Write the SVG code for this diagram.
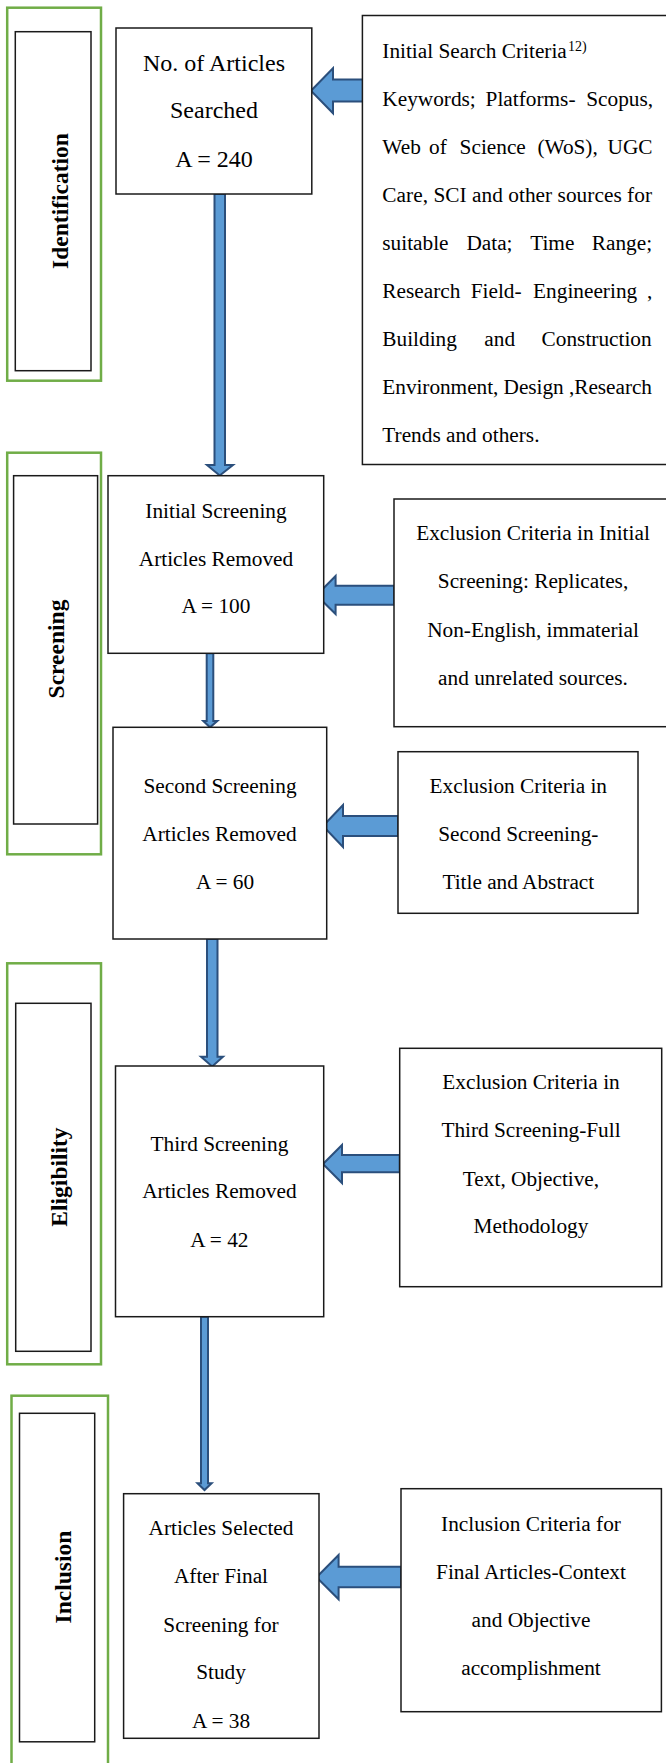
<svg xmlns="http://www.w3.org/2000/svg" width="666" height="1763" viewBox="0 0 666 1763">
<style>
.bg{fill:#fff}
.phase{fill:none;stroke:#70AD47;stroke-width:2.5}
.box{fill:#fff;stroke:#1a1a1a;stroke-width:1.5}
.lbl{fill:none;stroke:#1a1a1a;stroke-width:1.5}
.t{font-family:"Liberation Serif","Times New Roman",serif;font-size:21.3px;fill:#000}
.tc{text-anchor:middle}
.big{font-size:24px}
.v{font-family:"Liberation Serif","Times New Roman",serif;font-weight:bold;font-size:23.5px;fill:#000;text-anchor:middle}
.arr{fill:#5B9BD5;stroke:#2B4F7C;stroke-width:2;stroke-linejoin:miter}
</style>
<rect class="bg" x="0" y="0" width="666" height="1763"/>

<g id="phase-identification">
<rect class="phase" x="7.2" y="7.7" width="93.8" height="373"/>
<rect class="lbl" x="15.3" y="31.7" width="75.7" height="339"/>
<text class="v" transform="translate(67.5,201) rotate(-90)">Identification</text>
</g>
<g id="phase-screening">
<rect class="phase" x="7.2" y="452.7" width="93.8" height="401.6"/>
<rect class="lbl" x="13.6" y="475.7" width="84" height="348.3"/>
<text class="v" transform="translate(64,649) rotate(-90)">Screening</text>
</g>
<g id="phase-eligibility">
<rect class="phase" x="7.2" y="963.3" width="93.8" height="401"/>
<rect class="lbl" x="15.7" y="1003.3" width="75.3" height="348"/>
<text class="v" transform="translate(66.5,1177) rotate(-90)">Eligibility</text>
</g>
<g id="phase-inclusion">
<rect class="phase" x="11.5" y="1395.7" width="96.5" height="400"/>
<rect class="lbl" x="19.5" y="1413.3" width="75.2" height="328.5"/>
<text class="v" transform="translate(70.5,1577) rotate(-90)">Inclusion</text>
</g>

<g id="connectors">
<path class="arr" d="M311,90.7 L333,68.3 L333,79.5 L363,79.5 L363,101.5 L333,101.5 L333,113.3 Z"/>
<path class="arr" d="M316.5,595.3 L335.6,576 L335.6,585.7 L394,585.7 L394,604.7 L335.6,604.7 L335.6,614 Z"/>
<path class="arr" d="M323,826 L343,805 L343,816 L398,816 L398,836 L343,836 L343,847 Z"/>
<path class="arr" d="M323,1164 L342,1145 L342,1155 L399.7,1155 L399.7,1172.3 L342,1172.3 L342,1183 Z"/>
<path class="arr" d="M316.5,1577.3 L338.6,1555 L338.6,1566.7 L401,1566.7 L401,1587.3 L338.6,1587.3 L338.6,1599.3 Z"/>
<path class="arr" d="M214.5,194 L225,194 L225,465 L233,465 L219.7,475.5 L207,465 L214.5,465 Z"/>
<path class="arr" stroke-width="1.5" d="M206.7,653.3 L213.3,653.3 L213.3,721 L217.3,721 L210,727.3 L203.3,721 L206.7,721 Z"/>
<path class="arr" d="M207,939 L217.5,939 L217.5,1056.7 L223,1056.7 L212.2,1066.5 L201,1056.7 L207,1056.7 Z"/>
<path class="arr" stroke-width="1.5" d="M201,1316.7 L208,1316.7 L208,1483.3 L211.6,1483.3 L204.5,1490 L197.5,1483.3 L201,1483.3 Z"/>
</g>

<g id="n-searched">
<rect class="box" x="116" y="28" width="195.8" height="166"/>
<text class="t tc big" x="214" y="71">No. of Articles</text>
<text class="t tc big" x="214" y="118">Searched</text>
<text class="t tc big" x="214" y="166.7">A = 240</text>
</g>

<g id="n-search-criteria">
<rect class="box" x="362.4" y="15.5" width="320" height="449"/>
<text class="t" x="382.3" y="58.3">Initial Search Criteria</text>
<text class="t" x="568" y="51" style="font-size:14px">12)</text>
<text class="t" y="106"><tspan x="382.3">Keywords;</tspan><tspan x="485.6">Platforms-</tspan><tspan x="586.2">Scopus,</tspan></text>
<text class="t" y="154"><tspan x="382.3">Web</tspan><tspan x="429">of</tspan><tspan x="459.6">Science</tspan><tspan x="537.4">(WoS),</tspan><tspan x="607.5">UGC</tspan></text>
<text class="t" x="382.3" y="202" textLength="269.7" lengthAdjust="spacing">Care, SCI and other sources for</text>
<text class="t" y="250"><tspan x="382.3">suitable</tspan><tspan x="466.4">Data;</tspan><tspan x="530.2">Time</tspan><tspan x="591.8">Range;</tspan></text>
<text class="t" y="297.7"><tspan x="382.3">Research</tspan><tspan x="470.7">Field-</tspan><tspan x="533.1">Engineering</tspan><tspan x="647">,</tspan></text>
<text class="t" y="345.7"><tspan x="382.3">Building</tspan><tspan x="484.3">and</tspan><tspan x="541.6">Construction</tspan></text>
<text class="t" x="382.3" y="393.7" textLength="269.7" lengthAdjust="spacing">Environment, Design ,Research</text>
<text class="t" x="382.3" y="441.7">Trends and others.</text>
</g>

<g id="n-initial-screening">
<rect class="box" x="108" y="475.7" width="215.7" height="177.6"/>
<text class="t tc" x="216" y="518">Initial Screening</text>
<text class="t tc" x="216" y="566">Articles Removed</text>
<text class="t tc" x="216" y="613.3">A = 100</text>
</g>

<g id="n-exclusion-initial">
<rect class="box" x="394" y="499" width="290" height="227.7"/>
<text class="t tc" x="533" y="540">Exclusion Criteria in Initial</text>
<text class="t tc" x="533" y="588.3">Screening: Replicates,</text>
<text class="t tc" x="533" y="636.7">Non-English, immaterial</text>
<text class="t tc" x="533" y="685">and unrelated sources.</text>
</g>

<g id="n-second-screening">
<rect class="box" x="113" y="727.3" width="213.7" height="211.7"/>
<text class="t tc" x="220" y="793.3">Second Screening</text>
<text class="t tc" x="219.5" y="840.7">Articles Removed</text>
<text class="t tc" x="225" y="889">A = 60</text>
</g>

<g id="n-exclusion-second">
<rect class="box" x="398" y="751.7" width="240" height="161.6"/>
<text class="t tc" x="518.3" y="793.3">Exclusion Criteria in</text>
<text class="t tc" x="518.3" y="841">Second Screening-</text>
<text class="t tc" x="518.3" y="889.3">Title and Abstract</text>
</g>

<g id="n-third-screening">
<rect class="box" x="115.5" y="1066" width="208.2" height="250.7"/>
<text class="t tc" x="219.4" y="1150.7">Third Screening</text>
<text class="t tc" x="219.4" y="1198.3">Articles Removed</text>
<text class="t tc" x="219.4" y="1246.7">A = 42</text>
</g>

<g id="n-exclusion-third">
<rect class="box" x="399.7" y="1048.3" width="262" height="238.4"/>
<text class="t tc" x="531" y="1089.3">Exclusion Criteria in</text>
<text class="t tc" x="531" y="1137.3">Third Screening-Full</text>
<text class="t tc" x="531" y="1185.7">Text, Objective,</text>
<text class="t tc" x="531" y="1233.3">Methodology</text>
</g>

<g id="n-final">
<rect class="box" x="123.6" y="1493.7" width="195.4" height="244.6"/>
<text class="t tc" x="221" y="1535">Articles Selected</text>
<text class="t tc" x="221" y="1583.3">After Final</text>
<text class="t tc" x="221" y="1631.7">Screening for</text>
<text class="t tc" x="221" y="1679.3">Study</text>
<text class="t tc" x="221" y="1727.7">A = 38</text>
</g>

<g id="n-inclusion-criteria">
<rect class="box" x="401" y="1488.7" width="260.4" height="223"/>
<text class="t tc" x="531" y="1530.7">Inclusion Criteria for</text>
<text class="t tc" x="531" y="1579">Final Articles-Context</text>
<text class="t tc" x="531" y="1626.7">and Objective</text>
<text class="t tc" x="531" y="1675">accomplishment</text>
</g>
</svg>
